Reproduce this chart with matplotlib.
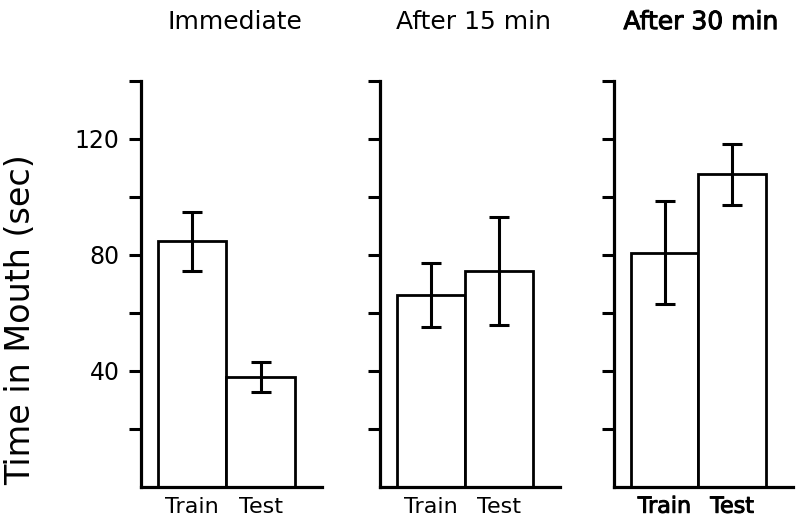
import matplotlib
matplotlib.use("Agg")
import matplotlib.pyplot as plt
import matplotlib.patheffects as pe

plt.rcParams['font.family'] = ['DejaVu Sans']

panels = ["Immediate", "After 15 min", "After 30 min"]
conditions = ["Train", "Test"]
means = [[84.7, 37.9], [66.3, 74.5], [80.8, 107.8]]
errors = [[10.1, 5.2], [11.1, 18.6], [17.8, 10.4]]
yticks = [20, 40, 60, 80, 100, 120, 140]
ytick_labels = ["", "40", "", "80", "", "120", ""]

fig = plt.figure(figsize=(8, 5.29), dpi=100)
W, H = 800, 529
lefts = [141, 380, 614]
widths = [181, 180, 179]
bottom_px, top_px = 487, 81
title_x = [0.52, 0.517, 0.486]
heavy = [pe.withStroke(linewidth=0.7, foreground='black')]

for i, name in enumerate(panels):
    ax = fig.add_axes([lefts[i] / W, 1 - bottom_px / H, widths[i] / W, (bottom_px - top_px) / H])
    effects = heavy if i == 2 else []
    ax.bar(range(len(conditions)), means[i], width=1.0, color='white',
           edgecolor='black', linewidth=2.0, zorder=2)
    ax.errorbar(range(len(conditions)), means[i], yerr=errors[i], fmt='none',
                ecolor='black', elinewidth=2.2, capsize=7.5, capthick=2.2, zorder=3)
    ax.set_xlim(-0.75, 1.9)
    ax.set_ylim(0, 140)
    ax.spines['top'].set_visible(False)
    ax.spines['right'].set_visible(False)
    ax.spines['left'].set_linewidth(2.3)
    ax.spines['bottom'].set_linewidth(2.3)
    ax.set_yticks(yticks)
    if i == 0:
        ax.set_yticklabels(ytick_labels, fontsize=17)
    else:
        ax.set_yticklabels([])
    ax.tick_params(axis='y', length=8.5, width=2.2, pad=7, direction='out')
    ax.set_xticks(range(len(conditions)))
    labels = ax.set_xticklabels(conditions, fontsize=16)
    for lab in labels:
        lab.set_path_effects(effects)
    ax.tick_params(axis='x', length=0, pad=7)
    ax.text(title_x[i], 1.145, name, transform=ax.transAxes, ha='center', va='center',
            fontsize=18, path_effects=effects)

fig.text(0.026, 1 - 320 / H, "Time in Mouth (sec)", rotation=90, ha='center', va='center',
         fontsize=24)

fig.savefig("out.png", dpi=100)
